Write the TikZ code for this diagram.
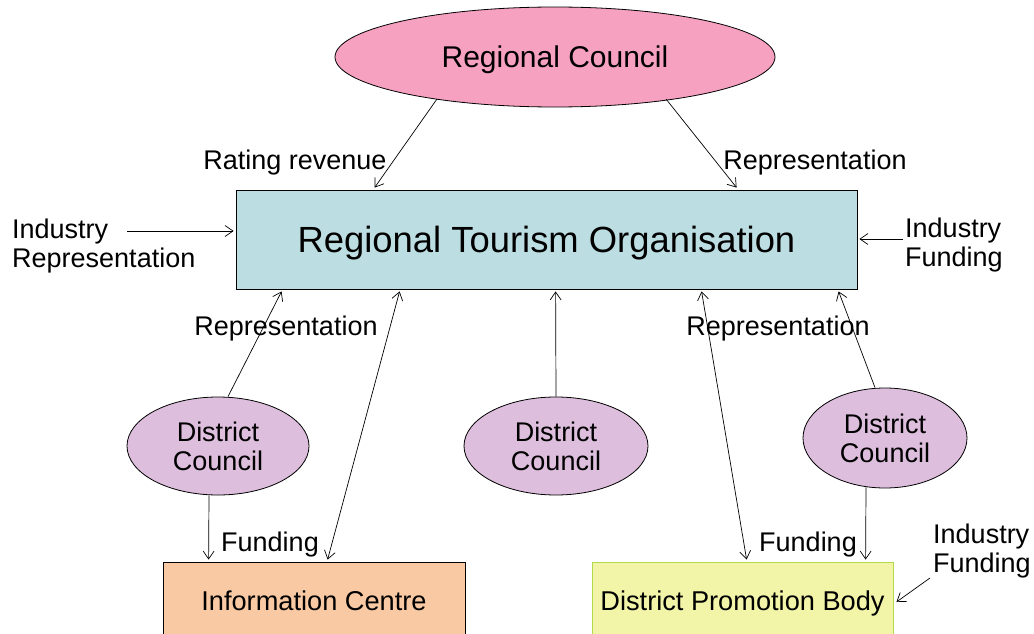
\documentclass[tikz,border=0pt]{standalone}
\usepackage{fontspec}
\setmainfont{Liberation Sans}
\usetikzlibrary{shapes.geometric,arrows.meta,calc}
\definecolor{rcpink}{HTML}{F7A1C1}
\definecolor{rtoblue}{HTML}{BCDEE2}
\definecolor{dcpurple}{HTML}{DDBEDD}
\definecolor{icpeach}{HTML}{F8C9A2}
\definecolor{dpbyellow}{HTML}{F2F4A8}
\definecolor{dpbborder}{HTML}{B2DA4A}
\tikzset{
  lbl/.style={font=\fontsize{27}{29}\selectfont, inner sep=0pt, align=center, text depth=0pt},
  dcell/.style={ellipse, draw=black, line width=0.8pt, fill=dcpurple, inner sep=0pt,
    font=\fontsize{27}{29}\selectfont, align=center},
  arr/.style={-{Straight Barb[length=8pt,width=11pt]}, line width=0.7pt},
  darr/.style={{Straight Barb[length=8pt,width=11pt]}-{Straight Barb[length=8pt,width=11pt]}, line width=0.7pt},
}
\begin{document}
\begin{tikzpicture}[x=1pt,y=-1pt]
\useasboundingbox (0,0) rectangle (1034,634);
\clip (0,0) rectangle (1034,634);
% nodes
\node[ellipse, draw=black, line width=0.8pt, fill=rcpink, minimum width=440pt, minimum height=100pt, inner sep=0pt,
  text depth=0pt, font=\fontsize{30}{32}\selectfont] (rc) at (555,57) {Regional Council};
\node[draw=black, line width=0.8pt, fill=rtoblue, minimum width=621pt, minimum height=99pt, inner sep=0pt,
  text depth=0pt, font=\fontsize{36.4}{40}\selectfont] (rto) at (546.5,239.5) {Regional Tourism Organisation};
\node[dcell, minimum width=182pt, minimum height=98pt] (dcl) at (218,446) {\strut District\\Council};
\node[dcell, minimum width=184pt, minimum height=98pt] (dcm) at (556,446) {\strut District\\Council};
\node[dcell, minimum width=164pt, minimum height=100pt] (dcr) at (885,438) {\strut District\\Council};
\node[draw=black, line width=0.8pt, fill=icpeach, minimum width=302pt, minimum height=78pt, inner sep=0pt,
  font=\fontsize{27.2}{29}\selectfont] (ic) at (314,601) {Information Centre};
\node[draw=dpbborder, line width=0.8pt, fill=dpbyellow, minimum width=301pt, minimum height=78pt, inner sep=0pt,
  text depth=0pt, font=\fontsize{27.2}{29}\selectfont] (dpb) at (742.5,601) {District Promotion Body};
% labels
\node[lbl] (lrr) at (295,160) {Rating revenue};
\node[lbl] (lrt) at (815,160) {Representation};
\node[lbl] (lrl) at (286,326) {Representation};
\node[lbl] (lrm) at (778,326) {Representation};
\node[lbl] (lfl) at (270,542) {Funding};
\node[lbl] (lfr) at (808,542) {Funding};
\node[lbl, anchor=west, align=left] (lir) at (12,243) {Industry\\Representation};
\node[lbl, anchor=west, align=left] (lif) at (905,242) {Industry\\Funding};
\node[lbl, anchor=west, align=left] (lib) at (933,548.5) {Industry\\Funding};
\coordinate (irs) at (127,231);
\coordinate (ifs) at (903,239);
\coordinate (ibs) at (930,578);
% connectors
\draw[arr] ($(rc.center)+(-118,42)$) -- ($(rto.north west)+(139,-2)$);
\draw[arr] ($(rc.center)+(111,42)$) -- ($(rto.north west)+(501,-2)$);
\draw[arr] (irs) -- ($(rto.west)+(-2,-8.5)$);
\draw[arr] (ifs) -- ($(rto.east)+(2,-0.5)$);
\draw[arr] ($(dcl.north)+(10,0)$) -- ($(rto.south west)+(46,2)$);
\draw[darr] ($(rto.south west)+(164,2)$) -- ($(ic.north west)+(165,-2)$);
\draw[arr] ($(dcl.south)+(-9,0)$) -- ($(ic.north west)+(46,-2)$);
\draw[arr] (dcm.north) -- ($(rto.south west)+(320,2)$);
\draw[darr] ($(rto.south west)+(466,2)$) -- ($(dpb.north west)+(155,-2)$);
\draw[arr] ($(dcr.north)+(-10,0)$) -- ($(rto.south west)+(603,2)$);
\draw[arr] ($(dcr.south)+(-19,-1)$) -- ($(dpb.north west)+(274,-2)$);
\draw[arr] (ibs) -- ($(dpb.east)+(3,1)$);
\end{tikzpicture}
\end{document}
